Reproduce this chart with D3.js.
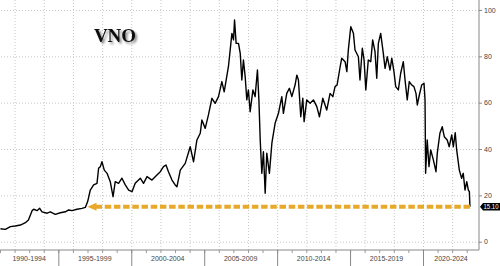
<!DOCTYPE html>
<html><head><meta charset="utf-8">
<script src="https://cdn.jsdelivr.net/npm/d3@7"></script>
<style>
html,body{margin:0;padding:0;background:#fff;}
svg{display:block;}
</style></head>
<body>
<script>
const years = [1991.03,1991.37,1991.71,1992.05,1992.40,1992.74,1992.95,1993.20,1993.31,1993.54,1993.72,1993.88,1994.23,1994.45,1994.79,1995.14,1995.48,1995.71,1995.94,1996.28,1996.62,1996.85,1997.01,1997.19,1997.42,1997.65,1997.76,1997.88,1997.99,1998.15,1998.34,1998.56,1998.75,1998.90,1999.13,1999.36,1999.59,1999.82,2000.05,2000.27,2000.62,2000.84,2001.08,2001.42,2001.76,2001.99,2002.21,2002.38,2002.55,2002.79,2003.01,2003.13,2003.36,2003.70,2004.04,2004.27,2004.50,2004.73,2004.84,2005.07,2005.29,2005.53,2005.75,2005.98,2006.21,2006.37,2006.66,2006.90,2007.01,2007.08,2007.19,2007.35,2007.47,2007.58,2007.69,2007.81,2007.92,2008.03,2008.15,2008.34,2008.49,2008.65,2008.75,2008.84,2008.95,2009.06,2009.18,2009.29,2009.47,2009.64,2009.86,2010.09,2010.32,2010.43,2010.66,2010.84,2011.01,2011.23,2011.35,2011.46,2011.62,2011.76,2011.85,2012.03,2012.26,2012.49,2012.72,2012.90,2013.13,2013.40,2013.63,2013.82,2013.97,2014.11,2014.32,2014.43,2014.66,2014.78,2014.88,2015.05,2015.23,2015.34,2015.57,2015.68,2015.84,2015.96,2016.08,2016.25,2016.42,2016.55,2016.71,2016.83,2016.94,2017.10,2017.28,2017.40,2017.55,2017.74,2017.86,2018.01,2018.13,2018.31,2018.47,2018.65,2018.77,2018.92,2019.06,2019.23,2019.38,2019.52,2019.61,2019.75,2019.91,2020.07,2020.14,2020.18,2020.29,2020.41,2020.53,2020.71,2020.89,2020.98,2021.16,2021.32,2021.46,2021.66,2021.80,2021.97,2022.08,2022.21,2022.31,2022.49,2022.65,2022.76,2022.88,2023.00,2023.11,2023.18,2023.22];
const prices = [5.6,5.3,6.5,6.8,7.2,8.2,9.4,13.4,14.0,13.4,14.4,12.9,12.3,12.9,11.8,12.5,12.9,13.7,13.4,14.0,14.4,14.8,17.3,22.3,24.5,25.2,31.7,32.4,34.5,30.9,29.5,25.9,19.4,25.9,25.2,27.4,24.5,22.3,21.6,25.2,27.4,25.2,28.1,26.6,28.8,30.2,32.4,33.1,30.2,26.6,24.5,23.7,30.9,33.8,41.0,34.5,43.9,46.8,52.5,48.9,54.7,61.9,59.7,62.6,69.1,64.7,75.5,89.9,87.1,95.7,85.6,85.6,81.3,69.8,78.4,71.2,61.2,65.5,56.1,65.5,62.6,74.1,61.2,43.9,29.5,38.8,20.9,38.2,29.5,42.5,51.1,55.4,62.6,55.4,64.0,66.2,62.6,67.6,71.9,69.8,53.9,61.9,51.8,61.2,59.7,61.2,58.3,53.9,61.9,56.8,64.0,62.6,66.9,67.6,75.5,79.2,77.7,73.4,82.7,92.8,89.9,82.7,79.8,69.8,83.5,78.4,65.5,78.4,77.7,87.1,82.0,70.5,85.6,89.9,81.3,74.8,79.8,74.1,79.2,73.4,66.9,65.5,72.7,77.7,69.8,61.2,69.1,67.6,66.9,64.0,59.0,63.3,67.6,68.4,61.2,29.5,43.9,32.4,39.6,35.3,30.2,38.2,46.8,49.6,45.3,43.9,41.0,46.1,41.0,47.0,39.6,30.9,27.4,29.5,22.3,25.9,22.3,21.6,15.1];
const yTicks = [0,20,40,60,80,100];
const periodStarts = [1990,1995,2000,2005,2010,2015,2020];
const periodLabels = ["1990-1994","1995-1999","2000-2004","2005-2009","2010-2014","2015-2019","2020-2024"];
const lastValue = 15.10;
const lastLabel = "15.10";
const refStartYear = 1997.0;
const title = "VNO";

const W = 500, H = 266;
const plotR = 479, plotB = 250;
const x = d3.scaleLinear().domain([1991.0, 2023.84]).range([0, plotR]);
const y = d3.scaleLinear().domain([-3.58, 104.3]).range([plotB, 0]);

const svg = d3.select("body").append("svg").attr("width", W).attr("height", H);
svg.append("rect").attr("width", W).attr("height", H).attr("fill", "#fff");

const defs = svg.append("defs");
const f = defs.append("filter").attr("id","sh").attr("x","-20%").attr("y","-20%").attr("width","150%").attr("height","160%");
f.append("feDropShadow").attr("dx",2).attr("dy",2).attr("stdDeviation",1.2).attr("flood-color","#000").attr("flood-opacity",0.45);

// horizontal grid
const hg = svg.append("g").attr("transform",`translate(${plotR},0)`)
  .call(d3.axisLeft(y).tickValues(yTicks).tickSize(plotR).tickFormat(""));
hg.select(".domain").remove();
hg.selectAll("line").attr("stroke","#c8c8c8").attr("stroke-dasharray","1,2");

// vertical grid (every 2 years)
const evenYears = d3.range(1992, 2024, 2);
const vg = svg.append("g").attr("transform",`translate(0,${plotB})`)
  .call(d3.axisTop(x).tickValues(evenYears).tickSize(plotB).tickFormat(""));
vg.select(".domain").remove();
vg.selectAll("line").attr("stroke","#c8c8c8").attr("stroke-dasharray","1,2");

// price line
const line = d3.line().x((d,i)=>x(years[i])).y(d=>y(d));
svg.append("path").datum(prices).attr("d", line)
  .attr("fill","none").attr("stroke","#000").attr("stroke-width",1.4).attr("stroke-linejoin","round");

// orange reference dashed line with arrow
const refY = y(lastValue);
const x0 = x(refStartYear), x1 = x(years[years.length-1]);
svg.append("line").attr("x1", x0+8).attr("x2", x1).attr("y1", refY).attr("y2", refY)
  .attr("stroke","#e8a82a").attr("stroke-width",4).attr("stroke-dasharray","6.5,2.7");
svg.append("path").attr("d", `M${x0},${refY} L${x0+9},${refY-4} L${x0+9},${refY+4} Z`).attr("fill","#e8a82a");

// right axis
const ya = svg.append("g").attr("transform",`translate(${plotR},0)`)
  .call(d3.axisRight(y).tickValues(yTicks).tickSize(3).tickPadding(2));
ya.select(".domain").attr("d", `M0,0V${plotB}`).attr("stroke","#888");
ya.selectAll("line").attr("stroke","#888");
ya.selectAll("text").attr("font-family","'Liberation Sans', Arial, sans-serif").attr("font-size",7).attr("fill","#444");

// bottom axis
const xa = svg.append("g").attr("transform",`translate(0,${plotB})`)
  .call(d3.axisBottom(x).tickValues(d3.range(1991, 2024, 1)).tickSize(3).tickFormat(""));
xa.select(".domain").attr("d", `M0,0H${plotR}`).attr("stroke","#888");
xa.selectAll("line").attr("stroke","#999");
const xs = svg.append("g").attr("transform",`translate(0,${plotB})`)
  .call(d3.axisBottom(x).tickValues(periodStarts.slice(1)).tickSize(16).tickFormat(""));
xs.select(".domain").remove();
xs.selectAll("line").attr("stroke","#888");

// period labels centred on visible part of each interval
svg.append("g").selectAll("text").data(periodStarts).join("text")
  .attr("x", d => { const a = Math.max(0, x(d)), b = Math.min(plotR, x(d+5)); return (a+b)/2; })
  .attr("y", 261)
  .attr("text-anchor","middle")
  .attr("font-family","'Liberation Sans', Arial, sans-serif").attr("font-size",7).attr("fill","#444")
  .text((d,i)=>periodLabels[i]);

// last value tag
const tg = svg.append("g");
tg.append("path").attr("d", `M${plotR+1},${refY} L${plotR+4},${refY-3.8} L${W},${refY-3.8} L${W},${refY+3.8} L${plotR+4},${refY+3.8} Z`).attr("fill","#000");
tg.append("text").attr("x", plotR+4.5).attr("y", refY+2.4)
  .attr("font-family","'Liberation Sans Narrow','Liberation Sans', Arial, sans-serif").attr("font-size",6.5).attr("fill","#fff")
  .attr("textLength", 15).attr("lengthAdjust","spacingAndGlyphs")
  .text(lastLabel);

// title
svg.append("text").attr("x",115).attr("y",42).attr("text-anchor","middle")
  .attr("font-family","'Liberation Serif','Times New Roman',serif").attr("font-weight","bold").attr("font-size",19)
  .attr("fill","#111").attr("filter","url(#sh)").text(title);
</script>
</body></html>
